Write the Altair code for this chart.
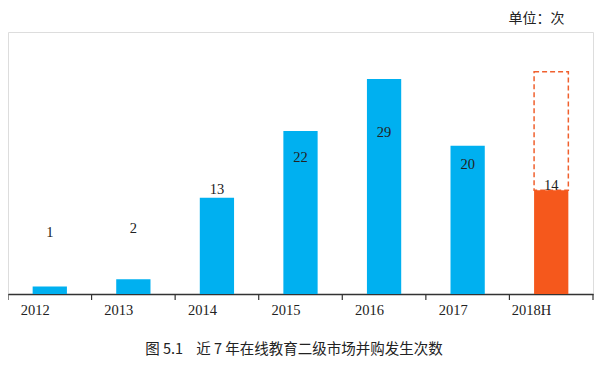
import altair as alt
import pandas as pd

# ---- data ----
years = ["2012", "2013", "2014", "2015", "2016", "2017", "2018H"]
counts = [1, 2, 13, 22, 29, 20, 14]
kinds = ["全年", "全年", "全年", "全年", "全年", "全年", "半年"]
forecast_year = "2018H"
forecast_value = 30

unit_text = "单位：次"
caption = "图 5.1\u00a0\u00a0\u00a0\u00a0近 7 年在线教育二级市场并购发生次数"

df = pd.DataFrame({"year": years, "count": counts, "kind": kinds})
fc = pd.DataFrame({"year": [forecast_year], "low": [counts[-1]], "high": [forecast_value]})

W, H = 585, 262
BLUE = "#00B0F0"
ORANGE = "#F5581C"
SERIF = "Liberation Serif"
CJK = "Noto Sans CJK SC"

xscale = alt.Scale(domain=years, paddingInner=0, paddingOuter=0)
yscale = alt.Scale(domain=[0, 35.35], nice=False, zero=True)

x_axis = alt.X(
    "year:N", sort=years, scale=xscale,
    axis=alt.Axis(title=None, domain=True, domainColor="#333333", domainWidth=1.5,
                  ticks=False, labelAngle=0, labelFont=SERIF, labelFontSize=14.5,
                  labelColor="#222222", labelPadding=16),
)

dashed = alt.Chart(fc).mark_bar(
    width=alt.RelativeBandSize(0.41), fillOpacity=0, stroke="#F0602E",
    strokeDash=[5, 3], strokeWidth=1.5,
).encode(
    x=alt.X("year:N", sort=years, scale=xscale),
    y=alt.Y("low:Q", scale=yscale, axis=None),
    y2="high:Q",
)

bars = alt.Chart(df).mark_bar(width=alt.RelativeBandSize(0.41)).encode(
    x=x_axis,
    y=alt.Y("count:Q", scale=yscale, axis=None),
    color=alt.Color("kind:N", scale=alt.Scale(domain=["全年", "半年"], range=[BLUE, ORANGE]), legend=None),
)

labels = alt.Chart(df).transform_calculate(
    ly="7.8 + 0.48 * datum.count"
).mark_text(font=SERIF, fontSize=14.5, color="#222222", baseline="middle").encode(
    x=alt.X("year:N", sort=years, scale=xscale),
    y=alt.Y("ly:Q", scale=yscale),
    text="count:Q",
)

ticks = alt.Chart(df).mark_rule(color="#333333", strokeWidth=1.2).encode(
    x=alt.X("year:N", sort=years, scale=xscale, bandPosition=0),
    y=alt.value(H),
    y2=alt.value(H + 6),
)
end_tick = alt.Chart(df).transform_filter(
    alt.datum.year == years[-1]
).mark_rule(color="#333333", strokeWidth=1.2).encode(
    x=alt.X("year:N", sort=years, scale=xscale, bandPosition=1),
    y=alt.value(H),
    y2=alt.value(H + 6),
)

cap = alt.Chart(df).transform_filter(alt.datum.year == years[0]).mark_text(
    font=CJK, fontSize=14.5, color="#222222", align="center", baseline="middle"
).encode(x=alt.value(286), y=alt.value(318), text=alt.value(caption))

chart = alt.layer(dashed, bars, labels, ticks, end_tick, cap).properties(
    width=W, height=H,
    autosize=alt.AutoSizeParams(type="none"),
    padding={"left": 0, "top": 24, "right": 11, "bottom": 63},
    title=alt.TitleParams(unit_text, anchor="end", orient="top", font=CJK, fontSize=14,
                          fontWeight="normal", color="#222222", offset=6, dx=-29),
).configure_view(stroke=None).configure(background="white")

chart.save("out.html", embed_options={"renderer": "svg", "actions": False})
